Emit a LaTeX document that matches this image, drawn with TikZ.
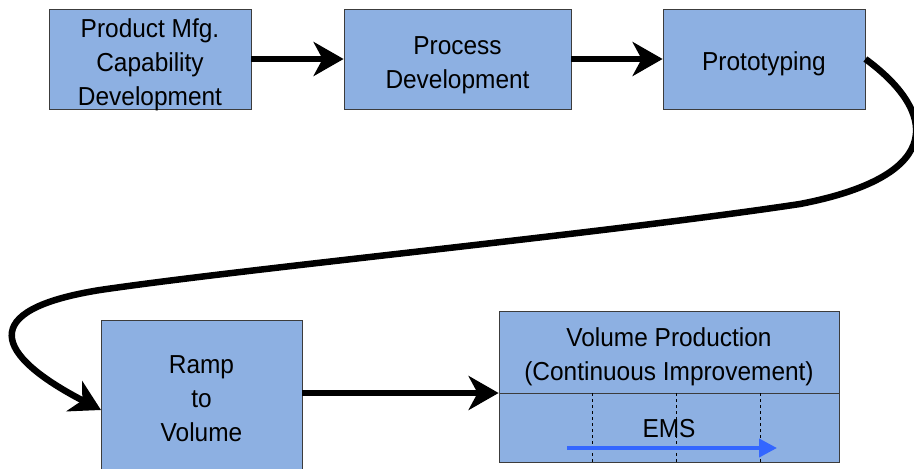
\documentclass[tikz,border=0pt]{standalone}
\usepackage{fontspec}
\setmainfont{Liberation Sans}[FakeStretch=0.94]
\usetikzlibrary{arrows.meta}
\definecolor{boxfill}{RGB}{141,176,226}
\definecolor{boxline}{RGB}{60,60,60}
\definecolor{emsblue}{RGB}{51,102,255}
\newcommand\stagefont{\fontsize{26}{34}\selectfont}
\begin{document}
\begin{tikzpicture}[x=1pt,y=-1pt,
  stagebox/.style={draw=boxline,line width=0.8pt,fill=boxfill,rectangle,inner sep=0pt},
  stagetext/.style={font=\stagefont,align=center,inner sep=0pt},
  flowarrow/.style={line width=6.5pt,-{Stealth[length=30pt,width=34pt,inset=9pt]}},
  emsarrow/.style={draw=emsblue,line width=4pt,-{Triangle[length=18pt,width=18pt]}}]
\useasboundingbox (0,0) rectangle (914,469);
\clip (0,0) rectangle (914,469);

% top row of stages
\node[stagebox,minimum width=202pt,minimum height=100pt] (b1) at (150,59) {};
\node[stagebox,minimum width=227pt,minimum height=100pt] (b2) at (457.5,59) {};
\node[stagebox,minimum width=202pt,minimum height=100pt] (b3) at (764,59) {};
\node[stagetext] (t1) at ([yshift=-6pt]b1.center) {Product Mfg.\\Capability\\Development};
\node[stagetext] (t2) at ([yshift=-6pt]b2.center) {Process\\Development};
\node[stagetext] (t3) at ([yshift=-5pt]b3.center) {Prototyping};

% bottom row
\node[stagebox,minimum width=201pt,minimum height=160pt] (b4) at (201.5,400) {};
\node[stagetext] (t4) at (201.5,399) {Ramp\\to\\Volume};
\node[stagebox,minimum width=340pt,minimum height=151pt] (b5) at (669,386.5) {};
\coordinate (divL) at (b5.west |- 0,393);
\coordinate (divR) at (b5.east |- 0,393);
\draw[boxline,line width=0.8pt] (divL) -- (divR);
\foreach \xx in {592,676,760}
  \draw[dashed,line width=0.6pt] (\xx,393) -- (\xx,462);
\node[stagetext] (t5) at (669,357) {Volume Production\\(Continuous Improvement)};
\node[stagetext] (ems) at (669,429) {EMS};
\coordinate (emsA) at (567,448);
\coordinate (emsB) at (777,448);
\draw[emsarrow] (emsA) -- (emsB);

% connectors
\draw[flowarrow] (b1.east) -- (b2.west);
\draw[flowarrow] (b2.east) -- (b3.west);
\draw[flowarrow] (b4.east |- divL) -- (divL);
\coordinate (c1) at (800,204);
\coordinate (c2) at (100,290);
\coordinate (rampin) at (101,410);
\draw[flowarrow] (b3.east) .. controls (935,110) and (950,175) .. (c1)
  .. controls (600,234) and (250,268) .. (c2)
  .. controls (-25,310) and (-5,355) .. (rampin);
\end{tikzpicture}
\end{document}
